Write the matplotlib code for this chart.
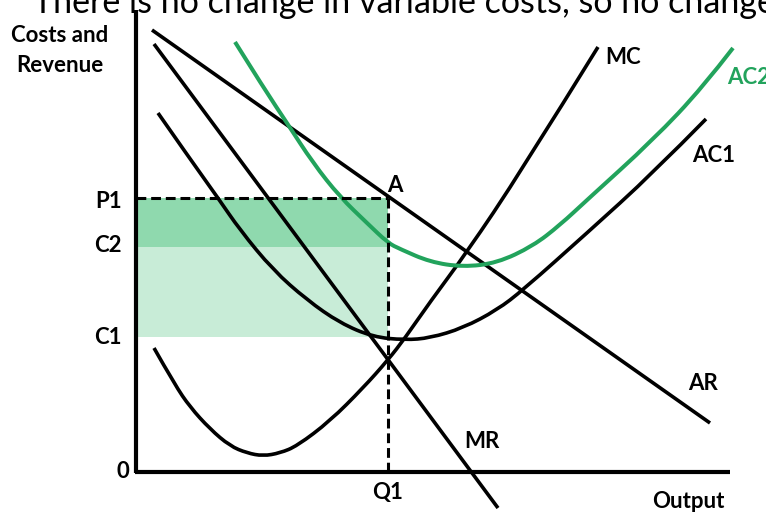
import numpy as np
import matplotlib
matplotlib.use("Agg")
import matplotlib.pyplot as plt
from matplotlib.path import Path
from matplotlib.patches import PathPatch

# ---- curve data (output q, cost/revenue c) ----
ar_q = [16, 574]
ar_c = [442, 49]

mr_q = [18, 362]
mr_c = [428, -36]

mc_q = [18, 39, 54, 74, 94, 111, 127, 144, 161, 194, 227, 252, 269, 294, 331, 384, 462]
mc_c = [124, 87, 65, 43, 26, 19, 16, 19, 26, 51, 84, 112, 134, 170, 220, 299, 425]

ac1_q = [22, 52, 82, 104, 137, 171, 204, 237, 269, 294, 327, 361, 387, 451, 517, 570]
ac1_c = [359, 316, 274, 242, 202, 172, 149, 135, 132, 134, 144, 162, 182, 239, 299, 353]

ac2_q = [99, 129, 151, 177, 204, 231, 252, 264, 294, 327, 361, 397, 424, 451, 517, 567, 597]
ac2_c = [430, 382, 349, 309, 275, 249, 229, 223, 210, 205, 209, 226, 247, 272, 332, 385, 424]

# price / cost levels and chosen output
P1 = 274
C2 = 225
C1 = 135
Q1 = 252

BLACK = "#000000"
GREEN = "#22a35c"
FILL_DARK = "#8fd9ae"
FILL_LIGHT = "#c8ecd7"


def smooth_path(qs, cs):
    """Quadratic Bezier path through midpoints of the given points."""
    pts = np.column_stack([qs, cs]).astype(float)
    verts = [pts[0]]
    codes = [Path.MOVETO]
    n = len(pts)
    if n == 2:
        verts.append(pts[1])
        codes.append(Path.LINETO)
        return Path(verts, codes)
    for i in range(1, n - 2):
        mid = (pts[i] + pts[i + 1]) / 2
        verts += [pts[i], mid]
        codes += [Path.CURVE3, Path.CURVE3]
    verts += [pts[n - 2], pts[n - 1]]
    codes += [Path.CURVE3, Path.CURVE3]
    return Path(verts, codes)


fig = plt.figure(figsize=(7.66, 5.12), dpi=100)
ax = fig.add_axes([0, 0, 1, 1])
ax.set_xlim(-136, 630)
ax.set_ylim(-40, 472)
ax.axis("off")

# profit areas
ax.fill_between([0, Q1], C2, P1, color=FILL_DARK, lw=0, zorder=1)
ax.fill_between([0, Q1], C1, C2, color=FILL_LIGHT, lw=0, zorder=1)

# axes
ax.plot([0, 0], [-1, 462], color=BLACK, lw=3.0, solid_capstyle="butt", zorder=5)
ax.plot([-1.5, 594], [0, 0], color=BLACK, lw=3.0, solid_capstyle="butt", zorder=5)

# dashed guides
ax.plot([0, Q1], [P1, P1], color=BLACK, lw=2.2, ls=(0, (3.2, 1.6)), zorder=4)
ax.plot([Q1, Q1], [0, P1], color=BLACK, lw=2.2, ls=(0, (3.2, 1.6)), zorder=4)

# curves
for qs, cs, col, lw in [
    (ar_q, ar_c, BLACK, 2.6),
    (mr_q, mr_c, BLACK, 2.6),
    (mc_q, mc_c, BLACK, 2.6),
    (ac1_q, ac1_c, BLACK, 2.6),
    (ac2_q, ac2_c, GREEN, 2.9),
]:
    ax.add_patch(PathPatch(smooth_path(qs, cs), fill=False, edgecolor=col,
                           lw=lw, capstyle="butt", zorder=3))

lab = dict(family="Lato", fontweight="bold", fontsize=16, color=BLACK)
ax.text(-76, 437, "Costs and", ha="center", va="center", **lab)
ax.text(-76, 407, "Revenue", ha="center", va="center", **lab)
ax.text(-14, P1 - 4, "P1", ha="right", va="center", **lab)
ax.text(-14, C2 + 2, "C2", ha="right", va="center", **lab)
ax.text(-14, C1, "C1", ha="right", va="center", **lab)
ax.text(-13, 0, "0", ha="center", va="center", **lab)
ax.text(Q1, -20, "Q1", ha="center", va="center", **lab)
ax.text(552, -30, "Output", ha="center", va="center", **lab)
ax.text(259, 287, "A", ha="center", va="center", **lab)
ax.text(487, 414, "MC", ha="center", va="center", **lab)
ax.text(591, 394, "AC2", ha="left", va="center", **{**lab, "color": GREEN})
ax.text(556, 317, "AC1", ha="left", va="center", **lab)
ax.text(567, 89, "AR", ha="center", va="center", **lab)
ax.text(346, 30, "MR", ha="center", va="center", **lab)

fig.text(33 / 766, 1 - 13 / 512, "There is no change in variable costs, so no change",
         ha="left", va="baseline", family="Lato", fontsize=24.5, color=BLACK)

fig.savefig("out.png", dpi=100)
